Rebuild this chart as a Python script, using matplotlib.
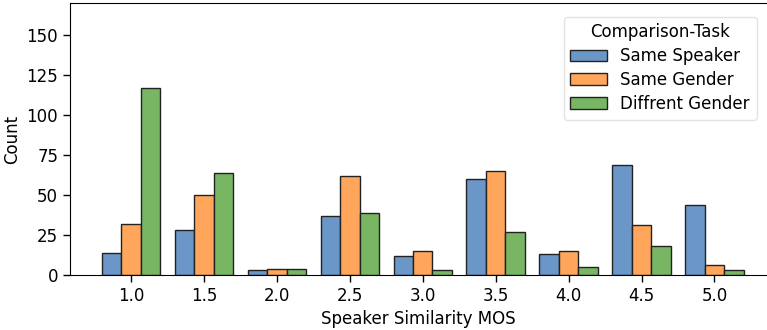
import numpy as np
import matplotlib.pyplot as plt
from matplotlib.patches import Patch

# -------------------------
# Data
# -------------------------
mos = [1.0, 1.5, 2.0, 2.5, 3.0, 3.5, 4.0, 4.5, 5.0]
same_speaker = [14, 28, 3, 37, 12, 60, 13, 69, 44]
same_gender = [32, 50, 4, 62, 15, 65, 15, 31, 6]
diff_gender = [117, 64, 4, 39, 3, 27, 5, 18, 3]

labels = ['Same Speaker', 'Same Gender', 'Diffrent Gender']
colors = ['#6a96c8', '#ffa65c', '#78b663']

# -------------------------
# Plot
# -------------------------
fig = plt.figure(figsize=(7.67, 3.3), dpi=100)
ax = fig.add_axes([70 / 767, 55 / 330, 1 - 70 / 767, 272 / 330])

x = np.array(mos)
w = 0.4 / 3
for i, (vals, c) in enumerate(zip([same_speaker, same_gender, diff_gender], colors)):
    ax.bar(x + (i - 1) * w, vals, width=w, color=c, edgecolor='#222222', linewidth=1.0)

ax.set_xlim(0.582, 5.36)
ax.set_ylim(0, 170)
ax.set_xticks(mos)
ax.set_xticklabels([f'{m:.1f}' for m in mos])
ax.set_yticks([0, 25, 50, 75, 100, 125, 150])
ax.tick_params(labelsize=12, length=5, width=1)
ax.set_xlabel('Speaker Similarity MOS', fontsize=12)
ax.set_ylabel('Count', fontsize=12)
ax.spines['right'].set_visible(False)

handles = [Patch(facecolor=c, edgecolor='#222222', label=l) for c, l in zip(colors, labels)]
leg = ax.legend(handles=handles, title='Comparison-Task', fontsize=12, title_fontsize=12,
                loc='upper right', bbox_to_anchor=(0.997, 0.98), frameon=True,
                labelspacing=0.35, handlelength=2.2)
leg.get_frame().set_edgecolor('#dddddd')

fig.savefig('out.png', dpi=100)
